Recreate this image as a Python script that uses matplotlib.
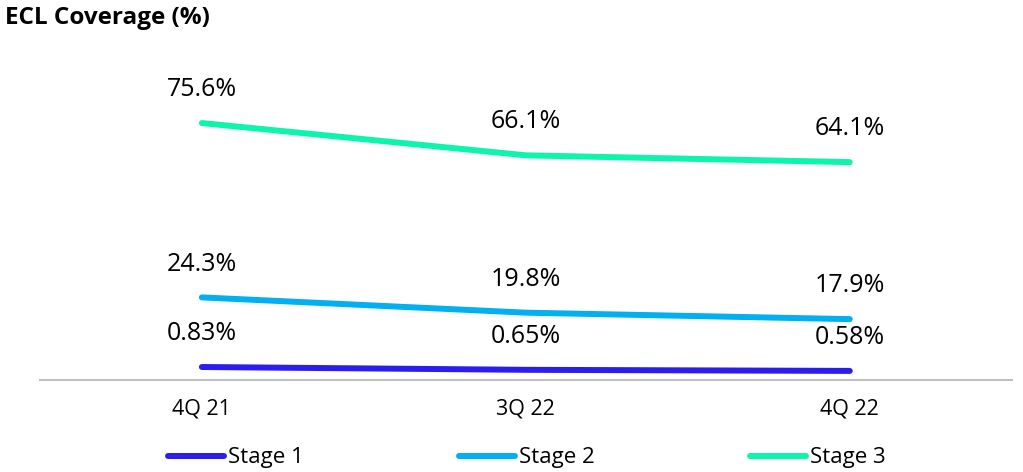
import matplotlib.pyplot as plt
from matplotlib.lines import Line2D

plt.rcParams['font.family'] = ['Open Sans', 'DejaVu Sans']

quarters = ['4Q 21', '3Q 22', '4Q 22']
stage1 = [0.83, 0.65, 0.58]
stage2 = [24.3, 19.8, 17.9]
stage3 = [75.6, 66.1, 64.1]
stage1_labels = ['0.83%', '0.65%', '0.58%']
stage2_labels = ['24.3%', '19.8%', '17.9%']
stage3_labels = ['75.6%', '66.1%', '64.1%']

c1, c2, c3 = '#2B1CF0', '#00B0F0', '#0CF5AC'

fig = plt.figure(figsize=(10.23, 4.72), dpi=100)
ax = fig.add_axes([0.039, 0.195, 0.950, 0.648])
ax2 = ax.twinx()

x = range(len(quarters))
lw = 4.3
ax.plot(x, stage2, color=c2, lw=lw, solid_capstyle='round')
ax.plot(x, stage3, color=c3, lw=lw, solid_capstyle='round')
ax2.plot(x, stage1, color=c1, lw=lw, solid_capstyle='round')

for xi, v, s in zip(x, stage2, stage2_labels):
    ax.annotate(s, (xi, v), xytext=(0, 24), textcoords='offset points',
                ha='center', va='center', fontsize=18)
for xi, v, s in zip(x, stage3, stage3_labels):
    ax.annotate(s, (xi, v), xytext=(0, 24), textcoords='offset points',
                ha='center', va='center', fontsize=18)
for xi, v, s in zip(x, stage1, stage1_labels):
    ax2.annotate(s, (xi, v), xytext=(0, 24), textcoords='offset points',
                 ha='center', va='center', fontsize=18)

ax.set_xlim(-0.5, 2.5)
ax.set_ylim(0, 90)
ax2.set_ylim(0, 19.6)

for a in (ax, ax2):
    for sp in ['top', 'left', 'right']:
        a.spines[sp].set_visible(False)
    a.set_yticks([])
ax2.spines['bottom'].set_visible(False)
ax.spines['bottom'].set_color('#BFBFBF')
ax.spines['bottom'].set_linewidth(1.5)
ax.set_xticks(list(x))
ax.set_xticklabels(quarters, fontsize=15.5)
ax.tick_params(axis='x', length=0, pad=13)

fig.text(0.005, 0.962, 'ECL Coverage (%)', fontsize=17.5, fontweight='bold',
         ha='left', va='center')

handles = [Line2D([], [], color=c, lw=lw, solid_capstyle='round') for c in (c1, c2, c3)]
fig.legend(handles, ['Stage 1', 'Stage 2', 'Stage 3'], loc='center',
           bbox_to_anchor=(0.515, 0.03), ncol=3, frameon=False, fontsize=16,
           handlelength=2.5, handletextpad=0.18, columnspacing=7.0)

fig.savefig('out.png', dpi=100)
